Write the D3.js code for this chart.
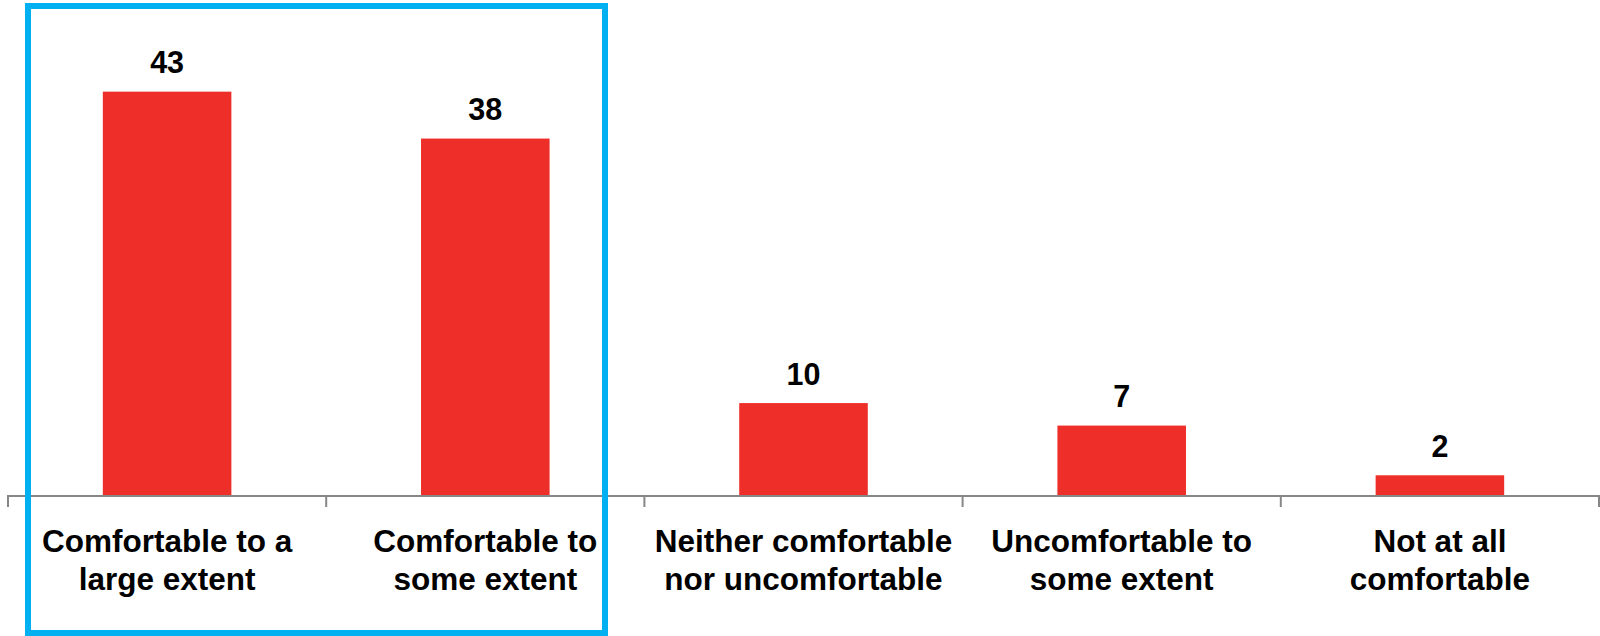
<!DOCTYPE html>
<html>
<head>
<meta charset="utf-8">
<script src="https://cdn.jsdelivr.net/npm/d3@7/dist/d3.min.js"></script>
<style>
  html, body { margin: 0; padding: 0; background: #ffffff; }
  svg { display: block; }
</style>
</head>
<body>
<svg id="chart" width="1600" height="636"></svg>
<script>
// ---- data ----
const categories = [
  ["Comfortable to a", "large extent"],
  ["Comfortable to", "some extent"],
  ["Neither comfortable", "nor uncomfortable"],
  ["Uncomfortable to", "some extent"],
  ["Not at all", "comfortable"]
];
const values = [43, 38, 9.8, 7.4, 2.1];
const valueLabels = ["43", "38", "10", "7", "2"];
const highlighted = [0, 1]; // categories inside the blue box

// ---- layout ----
const svg = d3.select("#chart");
const W = 1600, H = 636;
const x0 = 8, x1 = 1599, baseY = 495;

const x = d3.scaleBand()
  .domain(d3.range(categories.length))
  .range([x0, x1])
  .paddingInner(0.596)
  .paddingOuter(0.298);

const y = d3.scaleLinear().domain([0, 50]).range([baseY, 26]);

const font = "'Liberation Sans', Arial, Helvetica, sans-serif";

// bars
svg.append("g").selectAll("rect")
  .data(values)
  .join("rect")
  .attr("x", (d, i) => x(i))
  .attr("width", x.bandwidth())
  .attr("y", d => y(d))
  .attr("height", d => y(0) - y(d))
  .attr("fill", "#ee2e28");

// value labels
svg.append("g").selectAll("text")
  .data(values)
  .join("text")
  .attr("x", (d, i) => x(i) + x.bandwidth() / 2)
  .attr("y", d => y(d) - 18.5)
  .attr("text-anchor", "middle")
  .attr("font-family", font)
  .attr("font-weight", "bold")
  .attr("font-size", 30.5)
  .attr("fill", "#000")
  .text((d, i) => valueLabels[i]);

// axis
const step = x.step();
const tickXs = d3.range(categories.length + 1).map(i => x0 + i * step);
const axis = svg.append("g");
axis.append("line")
  .attr("x1", x0).attr("x2", x1)
  .attr("y1", baseY + 1).attr("y2", baseY + 1)
  .attr("stroke", "#878787").attr("stroke-width", 2);
axis.selectAll("line.tick")
  .data(tickXs)
  .join("line")
  .attr("class", "tick")
  .attr("x1", d => d).attr("x2", d => d)
  .attr("y1", baseY).attr("y2", baseY + 12)
  .attr("stroke", "#878787").attr("stroke-width", 2);

// category labels
const cat = svg.append("g").selectAll("text")
  .data(categories)
  .join("text")
  .attr("x", (d, i) => x(i) + x.bandwidth() / 2)
  .attr("y", 551.5)
  .attr("text-anchor", "middle")
  .attr("font-family", font)
  .attr("font-weight", "bold")
  .attr("font-size", 31.5)
  .attr("fill", "#000");
cat.selectAll("tspan")
  .data(d => d)
  .join("tspan")
  .attr("x", function () { return d3.select(this.parentNode).attr("x"); })
  .attr("dy", (d, i) => i === 0 ? 0 : 38)
  .text(d => d);

// highlight box
svg.append("rect")
  .attr("x", 28).attr("y", 6)
  .attr("width", 605 - 28).attr("height", 633 - 6)
  .attr("fill", "none")
  .attr("stroke", "#00b0f0")
  .attr("stroke-width", 6);
</script>
</body>
</html>
